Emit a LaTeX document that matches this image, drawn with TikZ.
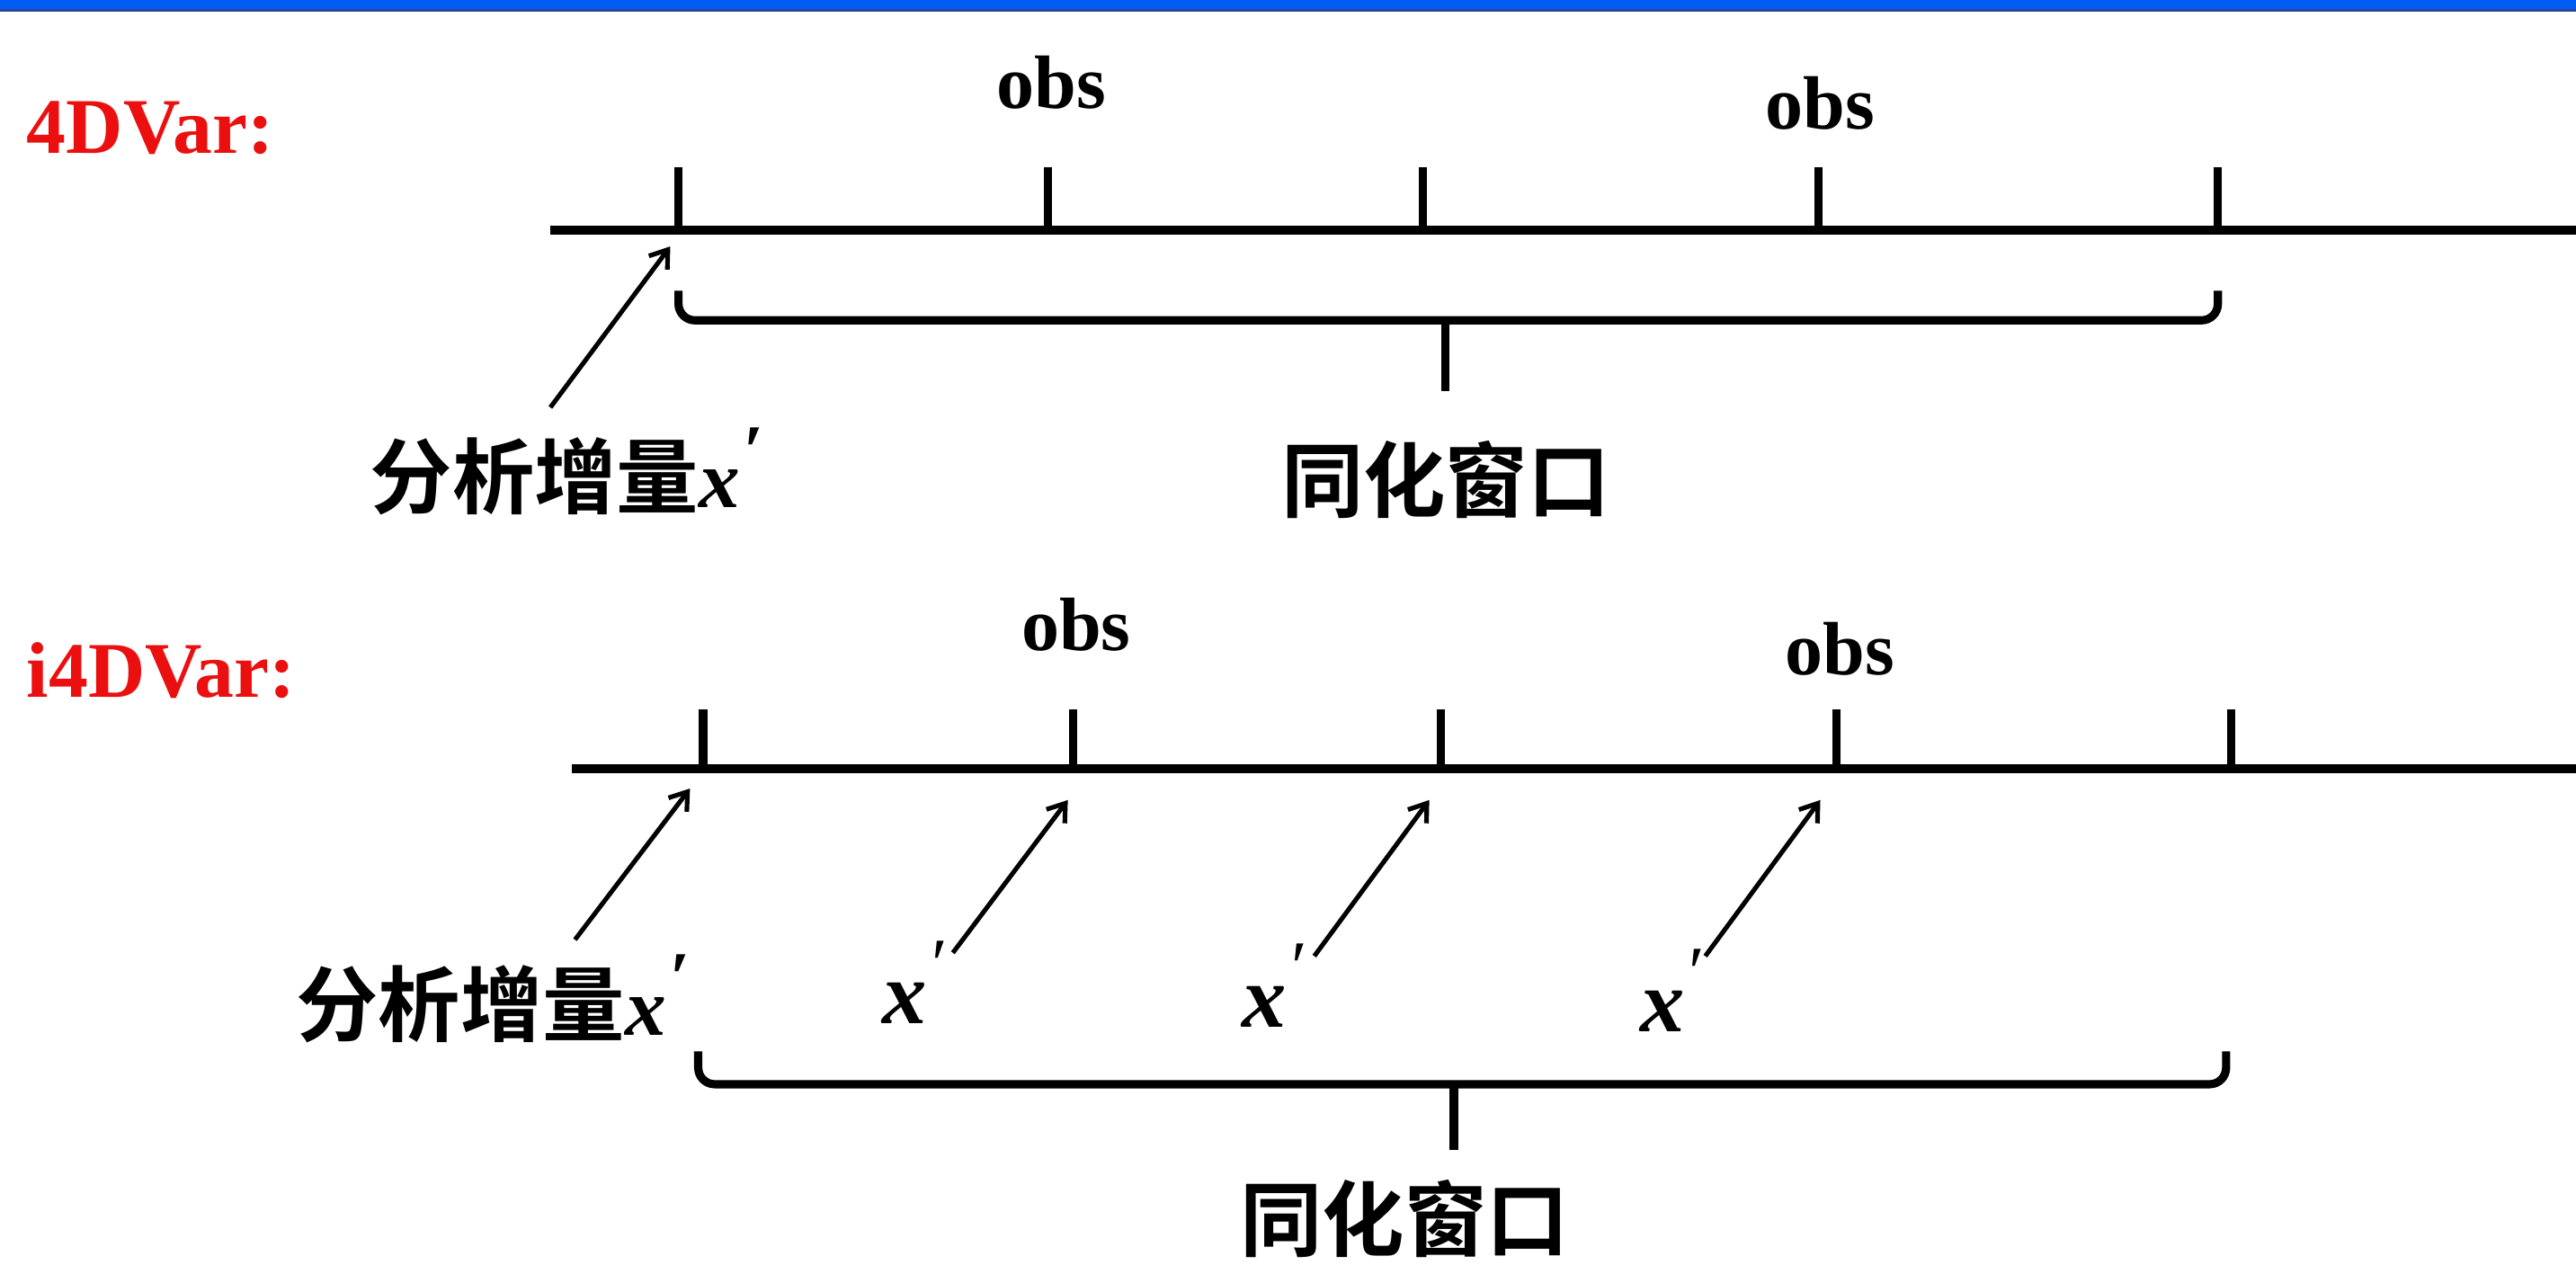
\documentclass[tikz,border=0pt]{standalone}
\usepackage{fontspec}
\setmainfont{Liberation Serif}
\newfontfamily\cjk{Noto Sans CJK SC}[BoldFont={Noto Sans CJK SC Bold}]
\usetikzlibrary{arrows.meta}
\definecolor{bandblue}{RGB}{0,92,245}
\definecolor{banddark}{RGB}{40,70,150}
\definecolor{labred}{RGB}{235,15,15}
\newcommand{\xprime}{{\rmfamily\bfseries\itshape x}\kern0.05em\raisebox{0.4em}{\rmfamily\fontsize{22pt}{22pt}\selectfont ′}}
\begin{document}
\begin{tikzpicture}[x=0.5pt,y=-0.5pt,
  axisline/.style={line width=2.7pt},
  tickline/.style={line width=2.5pt},
  bracel/.style={line width=2.5pt, rounded corners=5pt},
  ptr/.style={line width=1.4pt, -{Straight Barb[length=5pt,width=7pt,line width=1.4pt]}},
  redlab/.style={text=labred, font=\fontsize{24pt}{24pt}\selectfont\bfseries, inner sep=0pt, anchor=west},
  obs/.style={font=\fontsize{23pt}{23pt}\selectfont\bfseries, inner sep=0pt},
  cn/.style={font=\fontsize{25pt}{25pt}\selectfont\cjk\bfseries, inner sep=0pt},
  xl/.style={font=\fontsize{27pt}{27pt}\selectfont, inner sep=0pt}]
\useasboundingbox (0,0) rectangle (1568,775);
% top band
\fill[bandblue] (0,0) rectangle (1568,6);
\draw[banddark, line width=0.6pt] (0,6.3) -- (1568,6.3);

% ---------- 4DVar ----------
\node[redlab] (t4d) at (16,78) {4DVar:};
\coordinate (a1s) at (335,140);
\coordinate (a1e) at (1568,140);
\draw[axisline] (a1s) -- (a1e);
\foreach \i/\x in {1/413,2/638,3/866,4/1107,5/1350}{
  \coordinate (t1\i) at (\x,140);
  \coordinate (t1\i top) at (\x,102);
  \draw[tickline] (t1\i) -- (t1\i top);
}
\node[obs] (o11) at (640,50) {obs};
\node[obs] (o12) at (1108,63) {obs};
\node[cn, anchor=west] (lab1) at (225,287) {分析增量\xprime};
\coordinate (p1s) at (335,248);
\coordinate (p1e) at (408,150);
\draw[ptr] (p1s) -- (p1e);
\coordinate (b1l) at (413,177);
\coordinate (b1r) at (1350,177);
\draw[bracel] (b1l) -- (413,195) -- (1350,195) -- (b1r);
\coordinate (b1m) at (880,195);
\coordinate (b1s) at (880,238);
\draw[tickline] (b1m) -- (b1s);
\node[cn] (win1) at (880,292) {同化窗口};

% ---------- i4DVar ----------
\node[redlab] (ti4d) at (16,408) {i4DVar:};
\coordinate (a2s) at (348,468);
\coordinate (a2e) at (1568,468);
\draw[axisline] (a2s) -- (a2e);
\foreach \i/\x in {1/428,2/653,3/877,4/1118,5/1358}{
  \coordinate (t2\i) at (\x,468);
  \coordinate (t2\i top) at (\x,432);
  \draw[tickline] (t2\i) -- (t2\i top);
}
\node[obs] (o21) at (655,380) {obs};
\node[obs] (o22) at (1120,395) {obs};
\node[cn, anchor=west] (lab2) at (180,608) {分析增量\xprime};
\node[xl] (x1) at (557,598) {\xprime};
\node[xl] (x2) at (776,600) {\xprime};
\node[xl] (x3) at (1018,603) {\xprime};
\foreach \n/\sx/\sy/\ex/\ey in {1/350/572/420/480, 2/580/580/650/487, 3/800/582/870/487, 4/1038/582/1108/487}{
  \coordinate (q\n s) at (\sx,\sy);
  \coordinate (q\n e) at (\ex,\ey);
  \draw[ptr] (q\n s) -- (q\n e);
}
\coordinate (b2l) at (425,640);
\coordinate (b2r) at (1355,640);
\draw[bracel] (b2l) -- (425,660) -- (1355,660) -- (b2r);
\coordinate (b2m) at (885,660);
\coordinate (b2s) at (885,700);
\draw[tickline] (b2m) -- (b2s);
\node[cn] (win2) at (855,742) {同化窗口};
\end{tikzpicture}
\end{document}
